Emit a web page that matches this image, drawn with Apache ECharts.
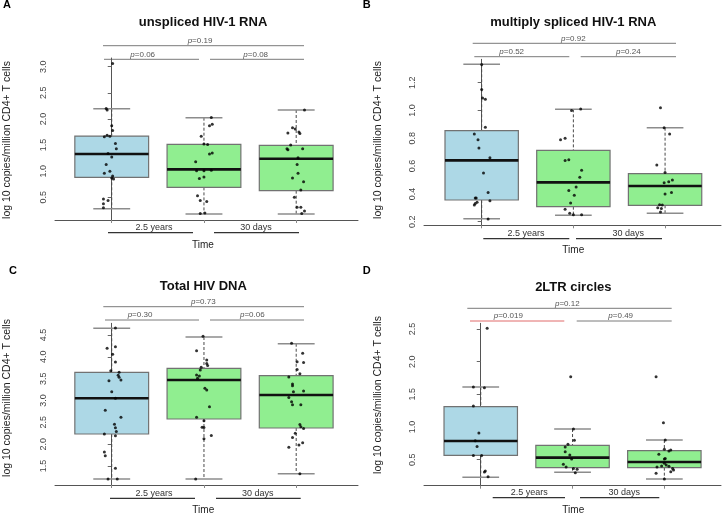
<!DOCTYPE html>
<html><head><meta charset="utf-8">
<script src="https://cdn.jsdelivr.net/npm/echarts@6/dist/echarts.min.js"></script>
<style>html,body{margin:0;padding:0;background:#fff}#c{width:723px;height:515px}</style>
</head><body><div id="c"></div>
<script>
// ---------- text ----------
const panelTitles = ['unspliced HIV-1 RNA', 'multiply spliced HIV-1 RNA', 'Total HIV DNA', '2LTR circles'];
const panelLetters = ['A', 'B', 'C', 'D'];
const timeLabels = ['2.5 years', '30 days'];
const xTitle = 'Time';
const yTitle = 'log 10 copies/million CD4+ T cells';
// p-values: [overall, group1 vs 2, group2 vs 3]
const pValues = [['0.19', '0.06', '0.08'], ['0.92', '0.52', '0.24'], ['0.73', '0.30', '0.06'], ['0.12', '0.019', '0.49']];

// ---------- tick labels ----------
const yTicksA = [0.5, 1.0, 1.5, 2.0, 2.5, 3.0];
const yTicksB = [0.2, 0.4, 0.6, 0.8, 1.0, 1.2];
const yTicksC = [1.5, 2.0, 2.5, 3.0, 3.5, 4.0, 4.5];
const yTicksD = [0.5, 1.0, 1.5, 2.0, 2.5];

// ---------- box statistics [lower whisker, Q1, median, Q3, upper whisker] ----------
const boxesA = [[0.283, 0.883, 1.329, 1.673, 2.196], [0.181, 0.691, 1.036, 1.514, 2.024], [0.181, 0.628, 1.240, 1.495, 2.171]];
const boxesB = [[0.222, 0.356, 0.641, 0.855, 1.332], [0.246, 0.308, 0.483, 0.713, 1.008], [0.260, 0.318, 0.457, 0.545, 0.876]];
const boxesC = [[1.202, 2.233, 3.050, 3.645, 4.653], [1.202, 2.576, 3.469, 3.737, 4.454], [1.324, 2.370, 3.126, 3.569, 4.300]];
const boxesD = [[0.230, 0.566, 0.786, 1.311, 1.612], [0.306, 0.378, 0.531, 0.719, 0.969], [0.204, 0.378, 0.464, 0.638, 0.801]];

// ---------- individual points [horizontal jitter, value] per group ----------
const pointsA = [
  [[0.01,3.06],[-0.06,2.20],[-0.05,2.17],[0.0,1.87],[0.01,1.78],[-0.05,1.69],[-0.02,1.67],[-0.08,1.66],[0.04,1.53],[0.05,1.43],[-0.04,1.34],[0.0,1.27],[-0.06,1.13],[-0.02,1.0],[-0.08,0.96],[0.01,0.91],[0.0,0.87],[0.02,0.85],[-0.09,0.47],[-0.04,0.44],[-0.09,0.38],[-0.09,0.30]],
  [[0.08,2.03],[0.06,1.87],[0.09,1.90],[-0.03,1.67],[0.0,1.52],[0.04,1.51],[0.06,1.33],[0.09,1.35],[-0.09,1.18],[-0.08,1.01],[0.08,1.02],[0.0,1.01],[-0.05,0.86],[0.0,0.89],[-0.07,0.53],[-0.04,0.44],[0.03,0.42],[-0.04,0.19],[0.01,0.20]],
  [[0.09,2.17],[-0.04,1.83],[-0.01,1.81],[-0.09,1.73],[0.03,1.75],[0.04,1.72],[-0.06,1.50],[-0.10,1.43],[-0.09,1.41],[0.07,1.43],[0.02,1.26],[0.01,1.13],[0.02,0.96],[-0.04,0.87],[0.08,0.80],[0.05,0.64],[-0.02,0.50],[0.01,0.31],[0.05,0.31],[0.09,0.24],[0.06,0.19]]
];
const pointsB = [
  [[0.0,1.33],[0.0,1.15],[0.01,1.09],[0.04,1.08],[0.04,0.88],[-0.08,0.83],[-0.04,0.79],[-0.03,0.73],[0.09,0.66],[0.02,0.55],[0.07,0.41],[-0.07,0.37],[-0.06,0.37],[-0.05,0.34],[-0.07,0.33],[-0.08,0.32],[0.09,0.35],[0.07,0.22]],
  [[-0.02,1.0],[0.08,1.01],[-0.14,0.79],[-0.09,0.80],[-0.09,0.64],[-0.05,0.645],[0.09,0.57],[0.07,0.52],[0.03,0.45],[-0.05,0.425],[0.01,0.39],[-0.03,0.335],[-0.09,0.29],[-0.04,0.26],[0.0,0.25],[0.09,0.25]],
  [[-0.05,1.02],[-0.01,0.876],[0.05,0.83],[-0.09,0.608],[0.0,0.553],[-0.01,0.48],[0.04,0.488],[0.08,0.50],[0.0,0.40],[0.07,0.41],[-0.06,0.322],[-0.03,0.32],[-0.08,0.30],[-0.04,0.295],[-0.05,0.27]]
];
const pointsC = [
  [[0.04,4.66],[-0.05,4.195],[0.04,4.233],[0.01,4.057],[0.04,3.88],[-0.01,3.68],[0.08,3.645],[0.07,3.58],[0.08,3.53],[-0.03,3.454],[0.10,3.47],[0.0,3.20],[0.04,3.05],[-0.07,2.775],[0.10,2.615],[0.03,2.454],[0.04,2.378],[0.05,2.29],[-0.08,2.233],[0.04,2.19],[-0.08,1.82],[-0.07,1.737],[0.04,1.447],[-0.04,1.202],[0.06,1.202]],
  [[-0.01,4.47],[-0.08,4.14],[0.03,3.93],[0.03,3.85],[0.04,3.80],[-0.03,3.76],[-0.08,3.584],[-0.05,3.56],[-0.07,3.508],[-0.04,3.70],[0.01,3.28],[0.03,3.24],[0.06,2.859],[-0.08,2.615],[0.0,2.538],[-0.02,2.39],[0.0,2.38],[0.0,2.126],[0.08,2.20],[-0.09,1.20]],
  [[-0.05,4.31],[0.07,4.08],[0.01,3.89],[0.08,3.87],[0.01,3.71],[0.04,3.61],[-0.08,3.54],[-0.04,3.38],[-0.04,3.34],[-0.03,3.20],[0.08,3.22],[-0.08,3.07],[-0.05,2.97],[-0.04,2.90],[0.05,2.90],[0.04,2.45],[0.05,2.40],[0.08,2.36],[-0.01,2.25],[-0.04,2.15],[0.07,2.03],[0.03,1.98],[-0.08,1.93],[0.04,1.324]]
];
const pointsD = [
  [[0.07,2.51],[-0.08,1.612],[0.04,1.602],[-0.08,1.32],[-0.02,0.908],[-0.06,0.79],[-0.04,0.70],[-0.08,0.566],[0.01,0.566],[0.05,0.327],[0.04,0.31],[0.08,0.24]],
  [[-0.02,1.77],[0.01,0.969],[0.02,0.796],[-0.05,0.735],[-0.08,0.694],[-0.08,0.62],[-0.03,0.571],[-0.01,0.51],[-0.10,0.429],[-0.07,0.388],[0.01,0.367],[0.05,0.352],[0.03,0.30]],
  [[-0.09,1.77],[-0.01,1.066],[0.01,0.801],[0.0,0.66],[0.05,0.633],[0.07,0.648],[-0.06,0.582],[0.01,0.52],[0.0,0.51],[0.0,0.444],[0.02,0.418],[-0.03,0.403],[-0.08,0.39],[0.05,0.40],[0.09,0.367],[0.10,0.342],[0.07,0.316],[-0.09,0.291],[0.0,0.204]]
];

// ---------- layout (pixels / axis extents) ----------
const layouts = [
  {grid: {left: 55, top: 58, width: 303, height: 162}, x: [-0.615, 2.67], y: [0.067, 3.166], ticks: yTicksA, boxes: boxesA, pts: pointsA,
   letter: [7, 5], title: [203, 22], ytitle: [7, 140],
   br: [[103, 304, 45.7, 200], [104, 199, 59.3, 142.7], [210, 304, 59.3, 255.7]],
   tl: [[108, 193, 232.7, 154], [214, 299, 232.7, 256]], time: [203, 245.7], red: false},
  {grid: {left: 424, top: 59.3, width: 297, height: 166}, x: [-0.629, 2.61], y: [0.174, 1.368], ticks: yTicksB, boxes: boxesB, pts: pointsB,
   letter: [366.7, 5], title: [573.3, 22.7], ytitle: [378.3, 140],
   br: [[472.7, 676, 43.3, 573.3], [474.3, 569.3, 56.7, 511.7], [580.7, 676, 56.7, 628.3]],
   tl: [[483.3, 569.3, 238.7, 526], [576, 662, 238.7, 628.3]], time: [573.3, 250], red: false},
  {grid: {left: 55, top: 323.3, width: 303, height: 161.7}, x: [-0.615, 2.67], y: [1.065, 4.768], ticks: yTicksC, boxes: boxesC, pts: pointsC,
   letter: [13, 271], title: [203.3, 286.7], ytitle: [7, 398],
   br: [[103.3, 304, 306.7, 203.3], [105, 199, 320, 140], [210, 304, 320, 252.3]],
   tl: [[110, 195, 498.3, 154], [216, 300.7, 498.3, 257.7]], time: [203.3, 510], red: false},
  {grid: {left: 424, top: 323.3, width: 297, height: 162.4}, x: [-0.618, 2.617], y: [0.102, 2.587], ticks: yTicksD, boxes: boxesD, pts: pointsD,
   letter: [366.7, 270.7], title: [573.3, 287.3], ytitle: [378.3, 395],
   br: [[467.3, 671.7, 308.3, 567.3], [470, 564.3, 321, 508.3], [576.7, 671.7, 321, 620.7]],
   tl: [[492.7, 565, 497.7, 529.3], [580, 659.3, 497.7, 624.3]], time: [573.3, 510], red: true}
];

const boxColors = ['#ADD8E6', '#90EE90', '#90EE90'];
const FONT = 'Liberation Sans, Arial, sans-serif';

function renderBox(params, api) {
  const i = api.value(0);
  const lo = api.coord([i, api.value(1)]);
  const q1 = api.coord([i, api.value(2)]);
  const md = api.coord([i, api.value(3)]);
  const q3 = api.coord([i, api.value(4)]);
  const hi = api.coord([i, api.value(5)]);
  const hw = api.size([0.4, 0])[0];
  const cw = api.size([0.2, 0])[0];
  const x = md[0];
  const dash = {stroke: '#4a4a4a', lineWidth: 1, lineDash: [3, 2]};
  const cap = {stroke: '#8c8c8c', lineWidth: 1.5};
  return {type: 'group', children: [
    {type: 'line', shape: {x1: x, y1: hi[1], x2: x, y2: q3[1]}, style: dash},
    {type: 'line', shape: {x1: x, y1: q1[1], x2: x, y2: lo[1]}, style: dash},
    {type: 'line', shape: {x1: x - cw, y1: hi[1], x2: x + cw, y2: hi[1]}, style: cap},
    {type: 'line', shape: {x1: x - cw, y1: lo[1], x2: x + cw, y2: lo[1]}, style: cap},
    {type: 'rect', shape: {x: x - hw, y: q3[1], width: 2 * hw, height: q1[1] - q3[1]},
     style: {fill: boxColors[i], stroke: '#727272', lineWidth: 1.2}},
    {type: 'line', shape: {x1: x - hw, y1: md[1], x2: x + hw, y2: md[1]}, style: {stroke: '#111', lineWidth: 2.6}}
  ]};
}

const grids = [], xAxes = [], yAxes = [], series = [], graphics = [];
layouts.forEach((L, k) => {
  grids.push(Object.assign({outerBoundsMode: 'none', containLabel: false}, L.grid));
  xAxes.push({type: 'value', gridIndex: k, min: L.x[0], max: L.x[1],
    axisLine: {show: true, lineStyle: {color: '#555', width: 1}},
    axisTick: {show: true, customValues: [0, 1, 2], length: 3, lineStyle: {color: '#888'}},
    axisLabel: {show: false}, splitLine: {show: false}});
  yAxes.push({type: 'value', gridIndex: k, min: L.y[0], max: L.y[1],
    axisLine: {show: true, lineStyle: {color: '#555', width: 1}},
    axisTick: {show: true, customValues: L.ticks, length: 4, lineStyle: {color: '#666'}},
    axisLabel: {show: true, customValues: L.ticks, rotate: 90, margin: 7, fontSize: 9, color: '#444', fontFamily: FONT,
      formatter: v => Number(v).toFixed(1)},
    splitLine: {show: false}});
  series.push({type: 'custom', xAxisIndex: k, yAxisIndex: k, z: 2, silent: true,
    renderItem: renderBox, encode: {x: 0, y: [1, 2, 3, 4, 5]},
    data: L.boxes.map((b, i) => [i].concat(b))});
  const pts = [];
  L.pts.forEach((grp, i) => grp.forEach(p => pts.push([i + p[0], p[1]])));
  series.push({type: 'scatter', xAxisIndex: k, yAxisIndex: k, z: 3, silent: true,
    symbol: 'circle', symbolSize: 3, itemStyle: {color: '#000'}, data: pts});

  // annotations
  graphics.push({type: 'text', x: L.letter[0], y: L.letter[1], style: {text: panelLetters[k], font: 'bold 11px ' + FONT, fill: '#000', textAlign: 'center', textVerticalAlign: 'middle'}});
  graphics.push({type: 'text', x: L.title[0], y: L.title[1], style: {text: panelTitles[k], font: 'bold 13px ' + FONT, fill: '#111', textAlign: 'center', textVerticalAlign: 'middle'}});
  graphics.push({type: 'text', x: L.ytitle[0], y: L.ytitle[1], rotation: Math.PI / 2,
    style: {text: yTitle, font: '10.5px ' + FONT, fill: '#222', textAlign: 'center', textVerticalAlign: 'middle'}});
  L.br.forEach((b, j) => {
    const col = (L.red && j === 1) ? '#e06a6a' : '#7a7a7a';
    graphics.push({type: 'line', shape: {x1: b[0], y1: b[2], x2: b[1], y2: b[2]}, style: {stroke: col, lineWidth: 1}});
    graphics.push({type: 'text', x: b[3], y: b[2] - 5, style: {text: '{i|p}=' + pValues[k][j], font: '8px ' + FONT, fill: '#555',
      textAlign: 'center', textVerticalAlign: 'middle', rich: {i: {fontStyle: 'italic', fontSize: 8, fill: '#555', fontFamily: FONT}}}});
  });
  L.tl.forEach((t, j) => {
    graphics.push({type: 'line', shape: {x1: t[0], y1: t[2], x2: t[1], y2: t[2]}, style: {stroke: '#333', lineWidth: 1.2}});
    graphics.push({type: 'text', x: t[3], y: t[2] - 4.8, style: {text: timeLabels[j], font: '9px ' + FONT, fill: '#333', textAlign: 'center', textVerticalAlign: 'middle'}});
  });
  graphics.push({type: 'text', x: L.time[0], y: L.time[1], style: {text: xTitle, font: '10px ' + FONT, fill: '#222', textAlign: 'center', textVerticalAlign: 'middle'}});
});

const chart = echarts.init(document.getElementById('c'), null, {renderer: 'canvas'});
chart.setOption({
  animation: false,
  backgroundColor: '#fff',
  grid: grids, xAxis: xAxes, yAxis: yAxes, series: series,
  graphic: {elements: graphics}
});
</script>
</body></html>
